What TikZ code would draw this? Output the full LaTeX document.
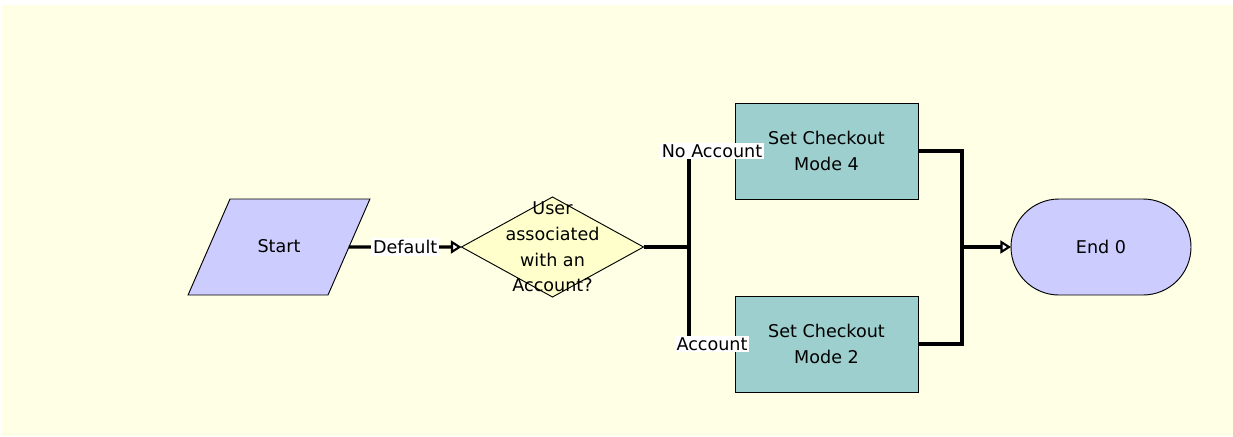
\documentclass[tikz,border=0pt]{standalone}
\usepackage{fontspec}
\setmainfont{DejaVu Sans}
\usetikzlibrary{shapes.geometric,arrows.meta}
\definecolor{bgyellow}{RGB}{255,255,230}
\definecolor{lavender}{RGB}{204,204,255}
\definecolor{decfill}{RGB}{255,255,204}
\definecolor{tealbox}{RGB}{158,207,207}
\tikzset{
  txt/.style={font=\fontsize{15pt}{22pt}\selectfont, align=center},
  shapebase/.style={draw=black, line width=0.8pt, inner sep=0pt, outer sep=0pt, txt},
  startshape/.style={shapebase, trapezium, trapezium stretches=false,
     trapezium left angle=66.4, trapezium right angle=113.6,
     fill=lavender, text width=2.94cm, text height=1.44cm+0.45em, text depth=1.44cm-0.45em},
  decshape/.style={shapebase, diamond, fill=decfill, minimum width=5.46cm, minimum height=3.0cm},
  stepbox/.style={shapebase, rectangle, fill=tealbox, minimum width=5.49cm, minimum height=2.88cm},
  endshape/.style={shapebase, rectangle, rounded corners=1.44cm, fill=lavender, minimum width=5.4cm, minimum height=2.88cm},
  conn/.style={line width=2.6pt, draw=black},
  arr/.style={conn, -{Triangle[length=9pt, width=11pt, line width=1.8pt, fill=white]}},
  elabel/.style={txt, fill=white, inner sep=1.5pt}
}
\begin{document}
\begin{tikzpicture}[x=0.03cm, y=-0.03cm]
\useasboundingbox (0,0) rectangle (1233,436);
\fill[bgyellow] (2,5) rectangle (1233,436);

\node[startshape] (start) at (279,247) {Start};
\node[decshape, label={[txt]center:User\\associated\\with an\\Account?}] (dec) at (552.5,247) {};
\node[stepbox] (box4) at (826.5,151) {Set Checkout\\Mode 4};
\node[stepbox] (box2) at (826.5,344) {Set Checkout\\Mode 2};
\node[endshape] (end) at (1101,247) {End 0};
\coordinate (split) at (689,247);
\coordinate (merge) at (962,247);

\draw[arr] (start.east) -- node[elabel] {Default} (dec.west);
\draw[conn] (dec.east) -- (split);
\draw[conn] (split) |- node[elabel, pos=0.75] {No Account} (box4.west);
\draw[conn] (split) |- node[elabel, pos=0.75] {Account} (box2.west);
\draw[conn] (box4.east) -| (merge);
\draw[conn] (box2.east) -| (merge);
\draw[arr] (merge) -- (end.west);
\end{tikzpicture}
\end{document}
